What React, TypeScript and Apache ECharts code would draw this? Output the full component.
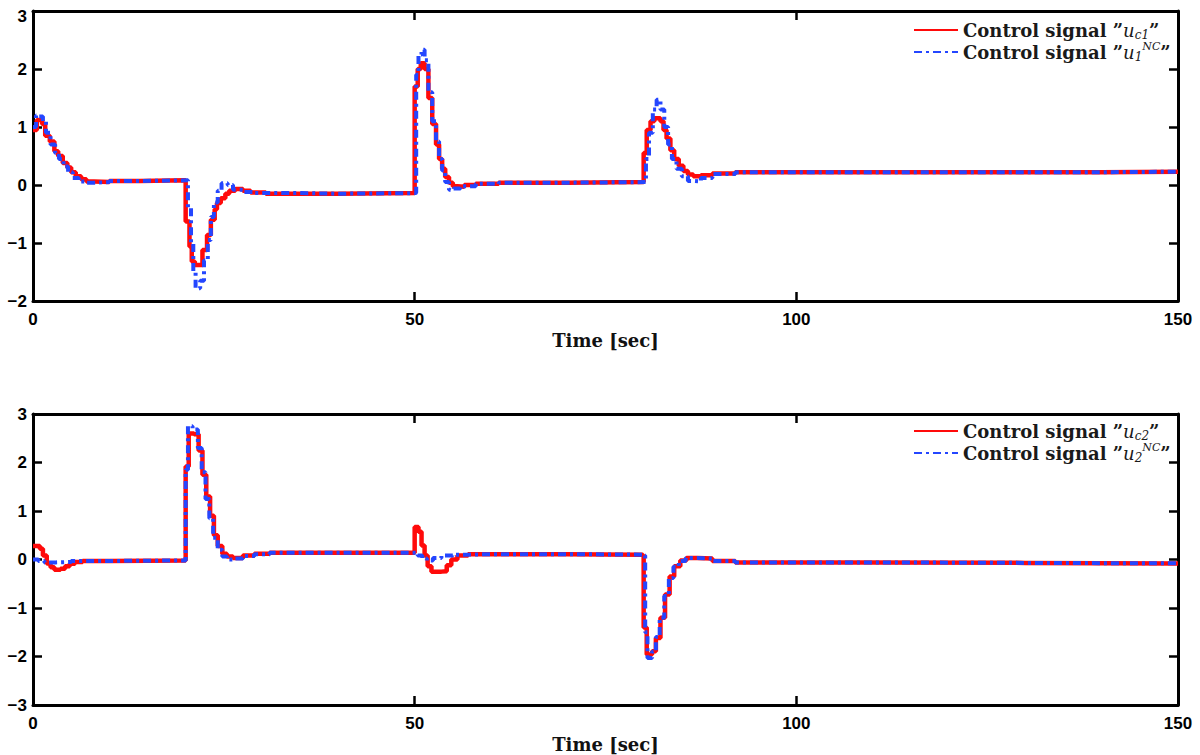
import React, { useEffect, useRef } from "react";
import * as echarts from "echarts";

// ---------- data (time [sec], value) ----------
const xTicks = [0, 50, 100, 150];
const yTicksTop = [-2, -1, 0, 1, 2, 3];
const yTicksBottom = [-3, -2, -1, 0, 1, 2, 3];

const uc1: [number, number][] = [
  [0, 0.95], [0.5, 1.12], [1.2, 1.05], [1.6, 0.85], [2.2, 0.75], [2.8, 0.58], [3.3, 0.5], [3.9, 0.38],
  [4.5, 0.3], [5, 0.22], [5.6, 0.15], [6.3, 0.1], [7, 0.06], [8, 0.05], [10, 0.07], [14, 0.08], [19.9, 0.08],
  [20, -0.63], [20.5, -1.06], [20.8, -1.32], [21.2, -1.38], [22.2, -1.12], [22.8, -0.86], [23.3, -0.6],
  [23.8, -0.42], [24.1, -0.31], [24.6, -0.23], [25.2, -0.15], [25.7, -0.1], [26.5, -0.07], [27.5, -0.1],
  [28.5, -0.13], [30.5, -0.15], [35, -0.15], [40, -0.14], [49.9, -0.13],
  [50, 1.7], [50.4, 2.0], [50.8, 2.1], [51.3, 2.0], [51.8, 1.5], [52.3, 1.05], [52.8, 0.7], [53.2, 0.45],
  [53.6, 0.28], [54, 0.14], [54.5, 0.04], [55, -0.02], [55.6, -0.03], [56.5, 0.0], [58, 0.02], [61, 0.04],
  [70, 0.05], [79.9, 0.05],
  [80, 0.55], [80.4, 0.95], [80.9, 1.1], [81.4, 1.15], [82.2, 1.1], [82.6, 0.95], [83, 0.8], [83.5, 0.6],
  [84, 0.45], [84.6, 0.33], [85.2, 0.24], [85.8, 0.18], [86.5, 0.15], [87.5, 0.17], [89, 0.2], [92, 0.22],
  [100, 0.22], [120, 0.22], [140, 0.23], [150, 0.24],
];

const u1NC: [number, number][] = [
  [0, 1.0], [0.4, 1.2], [0.8, 1.18], [1.3, 1.1], [1.7, 0.9], [2.3, 0.7], [2.9, 0.55], [3.4, 0.45], [4, 0.32],
  [4.6, 0.22], [5.2, 0.12], [6, 0.06], [7, 0.04], [8, 0.05], [10, 0.07], [14, 0.08], [20.2, 0.08],
  [20.3, -0.4], [20.7, -1.0], [21.0, -1.5], [21.3, -1.78], [21.9, -1.65], [22.4, -1.3], [22.9, -0.95],
  [23.3, -0.55], [23.7, -0.3], [24.2, -0.1], [24.7, 0.03], [25.5, 0.0], [26.2, -0.08], [27.5, -0.12],
  [29, -0.14], [35, -0.15], [40, -0.14], [50.1, -0.13],
  [50.2, 1.9], [50.5, 2.25], [50.9, 2.33], [51.3, 2.15], [51.8, 1.6], [52.3, 1.1], [52.8, 0.75], [53.2, 0.45],
  [53.6, 0.25], [54, 0.05], [54.5, -0.08], [55.1, -0.06], [56, -0.02], [58, 0.02], [61, 0.04], [70, 0.05],
  [80.2, 0.05],
  [80.3, 0.45], [80.7, 0.9], [81.2, 1.3], [81.7, 1.47], [82.2, 1.3], [82.7, 1.0], [83.2, 0.7], [83.7, 0.45],
  [84.3, 0.28], [85, 0.15], [85.8, 0.07], [86.5, 0.06], [87.5, 0.12], [89, 0.19], [92, 0.22], [100, 0.22],
  [120, 0.22], [140, 0.23], [150, 0.24],
];

const uc2: [number, number][] = [
  [0, 0.28], [0.9, 0.22], [1.3, 0.08], [1.8, -0.08], [2.3, -0.16], [2.8, -0.21], [3.6, -0.19], [4.2, -0.14],
  [4.8, -0.09], [5.5, -0.05], [6.5, -0.03], [10, -0.02], [19.9, -0.02],
  [20, 1.92], [20.4, 2.6], [21.1, 2.58], [21.7, 2.25], [22.2, 1.75], [22.7, 1.3], [23.2, 0.9], [23.7, 0.5],
  [24.2, 0.28], [24.8, 0.12], [25.4, 0.06], [26.2, 0.03], [27.5, 0.08], [29, 0.12], [31, 0.14], [40, 0.14],
  [49.9, 0.14],
  [50, 0.67], [50.5, 0.57], [50.9, 0.29], [51.3, 0.08], [51.7, -0.14], [52.2, -0.25], [53.5, -0.24],
  [54.2, -0.12], [54.8, 0.0], [55.6, 0.08], [57, 0.11], [60, 0.11], [70, 0.1], [79.9, 0.08],
  [80, -1.4], [80.4, -1.96], [81.1, -1.89], [81.6, -1.62], [82.2, -1.2], [82.8, -0.72], [83.4, -0.35],
  [84, -0.14], [84.8, -0.02], [85.6, 0.03], [87, 0.02], [89, -0.03], [92, -0.06], [110, -0.07], [130, -0.08],
  [150, -0.09],
];

const u2NC: [number, number][] = [
  [0, 0.0], [0.7, -0.03], [1.5, -0.06], [3, -0.05], [5, -0.03], [10, -0.02], [19.9, -0.02],
  [20, 1.85], [20.3, 2.75], [20.9, 2.68], [21.6, 2.3], [22.1, 1.8], [22.6, 1.25], [23.1, 0.85], [23.6, 0.45],
  [24.2, 0.2], [24.8, 0.06], [25.4, 0.0], [26.3, 0.02], [27.5, 0.07], [29, 0.11], [31, 0.14], [40, 0.14],
  [49.9, 0.14],
  [50.4, 0.08], [51, 0.02], [51.6, -0.02], [52.4, 0.03], [53.5, 0.08], [55, 0.1], [57, 0.11], [60, 0.11],
  [70, 0.1], [80, 0.08],
  [80.2, -1.5], [80.5, -2.03], [81.1, -1.9], [81.6, -1.6], [82.1, -1.2], [82.7, -0.75], [83.3, -0.38],
  [83.9, -0.15], [84.6, -0.03], [85.5, 0.03], [87, 0.02], [89, -0.03], [92, -0.06], [110, -0.07],
  [130, -0.08], [150, -0.09],
];

const legendNames: Record<string, string> = {
  uc1: '{t|Control signal }{t|”}{m|u}{s|c1}{t|”}',
  u1NC: '{t|Control signal }{t|”}{m|u}{s|1}{p|NC}{t|”}',
  uc2: '{t|Control signal }{t|”}{m|u}{s|c2}{t|”}',
  u2NC: '{t|Control signal }{t|”}{m|u}{s|2}{p|NC}{t|”}',
};

const RED = "#ff0a0a";
const BLUE = "#2446ff";
const SERIF = "'DejaVu Serif', serif";
const SANS = "'Liberation Sans', Arial, sans-serif";

export default function App() {
  const ref = useRef<HTMLDivElement>(null);
  useEffect(() => {
    if (!ref.current) return;
    const chart = echarts.init(ref.current, null, { renderer: "svg" });

    const grids = [
      { left: 33, top: 11, width: 1145, height: 290 },
      { left: 33, top: 414, width: 1145, height: 291 },
    ];
    const lineStyle = { color: "#000", width: 3 };
    const tick = { show: true, inside: true, length: 9, lineStyle: { color: "#000", width: 2.5 } };
    const fmtMinus = (v: number) => (v < 0 ? "\u2212" + Math.abs(v) : String(v));
    const labelStyle = { color: "#000", fontFamily: SANS, fontWeight: "bold" as const, fontSize: 17 };

    const xAxes: any[] = [];
    const yAxes: any[] = [];
    [0, 1].forEach((g) => {
      xAxes.push({
        type: "value", gridIndex: g, min: xTicks[0], max: xTicks[xTicks.length - 1], interval: 50,
        position: "bottom", axisLine: { show: true, onZero: false, lineStyle }, axisTick: tick,
        splitLine: { show: false },
        axisLabel: { ...labelStyle, margin: 10, formatter: (v: number) => String(v) },
        name: "Time [sec]", nameLocation: "middle", nameGap: 30,
        nameTextStyle: { color: "#111", fontFamily: SERIF, fontWeight: "bold", fontSize: 18 },
      });
      xAxes.push({
        type: "value", gridIndex: g, min: xTicks[0], max: xTicks[xTicks.length - 1], interval: 50,
        position: "top", axisLine: { show: true, onZero: false, lineStyle }, axisTick: tick,
        splitLine: { show: false }, axisLabel: { show: false },
      });
      const yt = g === 0 ? yTicksTop : yTicksBottom;
      yAxes.push({
        type: "value", gridIndex: g, min: yt[0], max: yt[yt.length - 1], interval: 1,
        position: "left", axisLine: { show: true, onZero: false, lineStyle }, axisTick: tick,
        splitLine: { show: false },
        axisLabel: {
          ...labelStyle, margin: 6,
          formatter: (v: number) => (g === 0 && v === 3 ? "{top|3}" : fmtMinus(v)),
          rich: { top: { ...labelStyle, padding: [10, 0, 0, 0] } },
        },
      });
      yAxes.push({
        type: "value", gridIndex: g, min: yt[0], max: yt[yt.length - 1], interval: 1,
        position: "right", axisLine: { show: true, onZero: false, lineStyle }, axisTick: tick,
        splitLine: { show: false }, axisLabel: { show: false },
      });
    });

    const mk = (name: string, data: [number, number][], g: number, dashed: boolean) => ({
      name, type: "line", data, xAxisIndex: g * 2, yAxisIndex: g * 2, step: "end",
      symbol: "none", showSymbol: false, clip: true,
      lineStyle: dashed
        ? { color: BLUE, width: 4, type: [8, 4, 3, 4] }
        : { color: RED, width: 4.5, type: "solid" },
      itemStyle: { color: dashed ? BLUE : RED },
      z: dashed ? 3 : 2,
    });

    const rich = {
      t: { fontFamily: SERIF, fontWeight: "bold", fontSize: 18, lineHeight: 22, color: "#1a1a1a" },
      m: { fontFamily: SERIF, fontStyle: "italic", fontSize: 18, lineHeight: 22, color: "#1a1a1a" },
      s: { fontFamily: SERIF, fontStyle: "italic", fontSize: 12, lineHeight: 12, verticalAlign: "bottom", color: "#1a1a1a" },
      p: { fontFamily: SERIF, fontStyle: "italic", fontSize: 11, lineHeight: 11, verticalAlign: "top", color: "#1a1a1a" },
    };
    const legendBase = {
      orient: "vertical", left: 913, itemWidth: 44, itemHeight: 22, itemGap: 0, padding: 0,
      formatter: (n: string) => legendNames[n], textStyle: { rich },
      itemStyle: { opacity: 0 },
      selectedMode: false,
    };

    chart.setOption({
      animation: false,
      backgroundColor: "#fff",
      grid: grids,
      xAxis: xAxes,
      yAxis: yAxes,
      legend: [
        { ...legendBase, top: 21, data: ["uc1", "u1NC"] },
        { ...legendBase, top: 422, data: ["uc2", "u2NC"] },
      ],
      series: [
        mk("uc1", uc1, 0, false),
        mk("u1NC", u1NC, 0, true),
        mk("uc2", uc2, 1, false),
        mk("u2NC", u2NC, 1, true),
      ],
    });
    return () => chart.dispose();
  }, []);
  return (
    <div
      ref={ref}
      style={{ position: "fixed", left: 0, top: 0, width: 1200, height: 755, background: "#fff" }}
    />
  );
}
